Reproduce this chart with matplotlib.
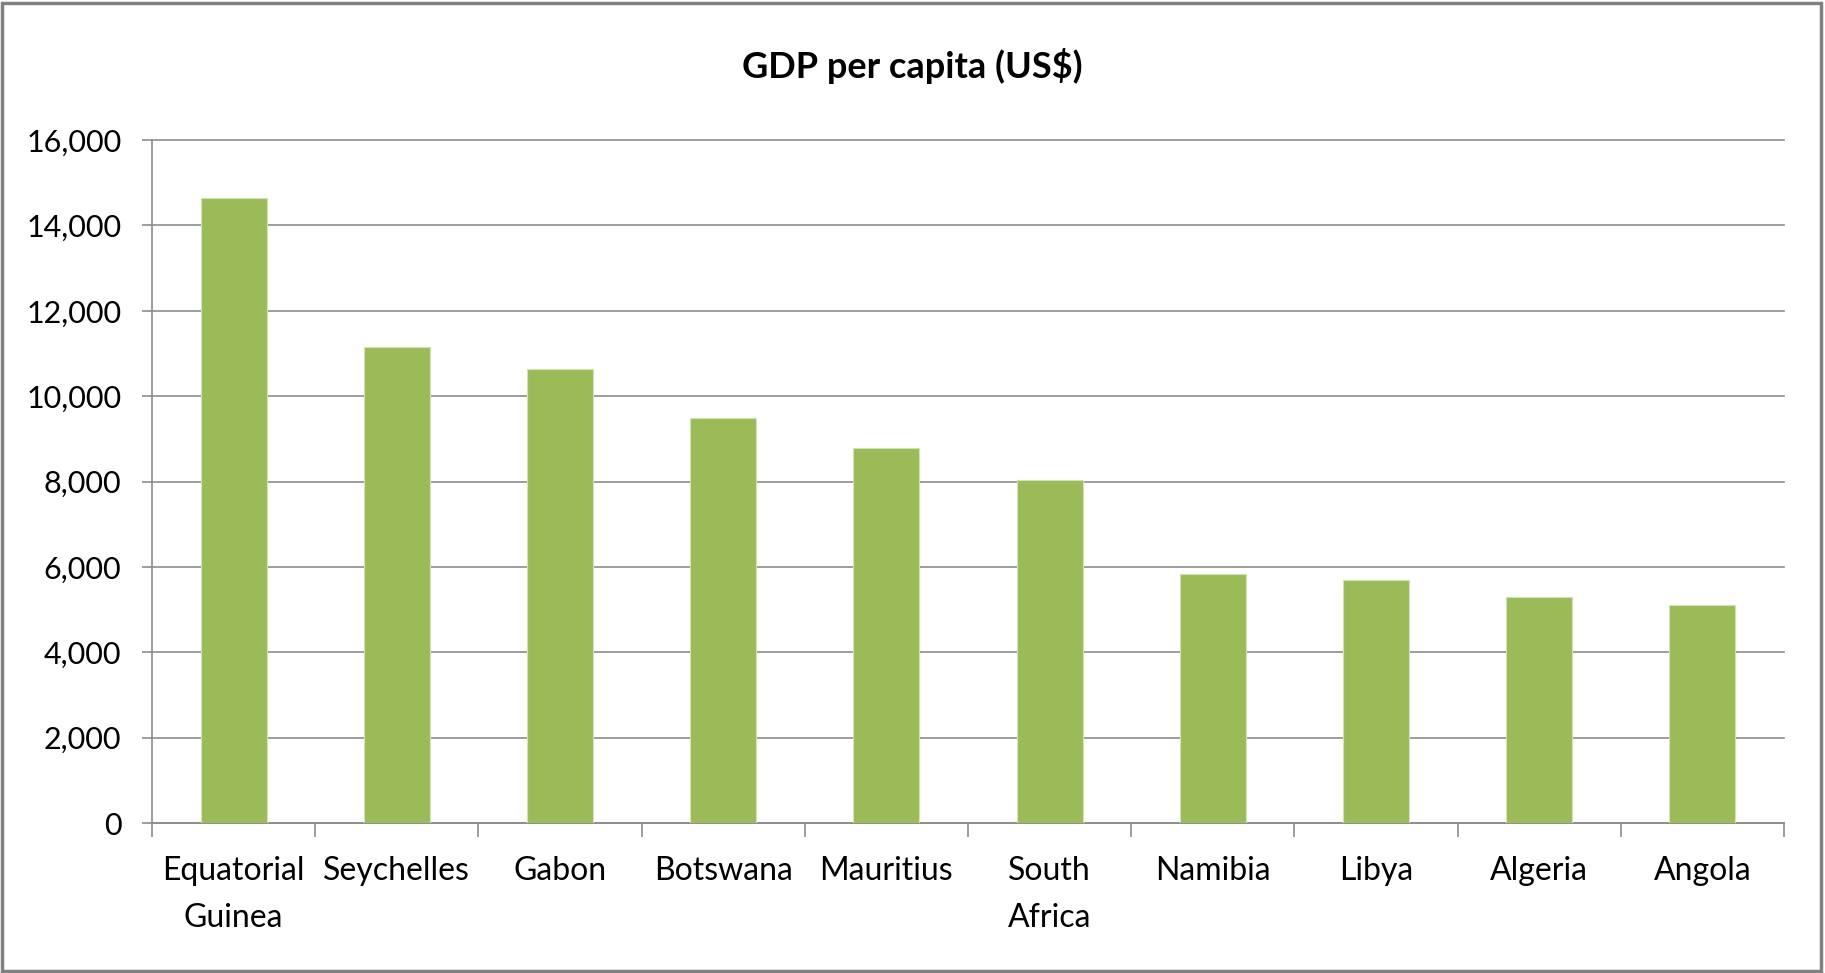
import matplotlib
matplotlib.use("Agg")
import matplotlib.pyplot as plt
from matplotlib.patches import Rectangle
from matplotlib.ticker import FuncFormatter

countries = ["Equatorial\nGuinea", "Seychelles", "Gabon", "Botswana", "Mauritius",
             "South\nAfrica", "Namibia", "Libya", "Algeria", "Angola"]
gdp_per_capita = [14650, 11160, 10630, 9490, 8780, 8030, 5830, 5700, 5300, 5120]
y_ticks = [0, 2000, 4000, 6000, 8000, 10000, 12000, 14000, 16000]

# no Calibri here, Lato is the closest humanist face that is installed
plt.rcParams["font.family"] = ["Lato", "DejaVu Sans"]

GREEN = "#9BBB59"
GRID = "#8C8C8C"

fig = plt.figure(figsize=(18.25, 9.73), dpi=100)
ax = fig.add_axes([0.0833, 0.154, 0.8942, 0.702])

x = list(range(len(countries)))
ax.bar(x, gdp_per_capita, width=0.405, color=GREEN, edgecolor="#D2E2B2",
       linewidth=0.8, zorder=3)

ax.set_xlim(-0.5, len(countries) - 0.5)
ax.set_ylim(0, 16000)
ax.set_yticks(y_ticks)
ax.yaxis.set_major_formatter(FuncFormatter(lambda v, _: f"{int(v):,}"))
ax.grid(axis="y", color=GRID, linewidth=1.2, zorder=0)
for line in ax.get_ygridlines():
    line.set_clip_on(False)

ax.set_xticks(x)
ax.set_xticklabels(countries, linespacing=1.7)
ax.set_xticks([i - 0.5 for i in range(len(countries) + 1)], minor=True)
ax.tick_params(axis="x", which="major", length=0, pad=24, labelsize=23)
ax.tick_params(axis="x", which="minor", length=10, width=1.2, color=GRID)
ax.tick_params(axis="y", length=7, width=1.2, color=GRID, pad=15, labelsize=22)

for side in ("top", "right"):
    ax.spines[side].set_visible(False)
for side in ("left", "bottom"):
    ax.spines[side].set_color(GRID)
    ax.spines[side].set_linewidth(1.2)

fig.text(0.5, 0.932, "GDP per capita (US$)", ha="center", va="center",
         fontsize=26, fontweight="bold")

fig.patches.append(Rectangle((0.001, 0.002), 0.997, 0.995, transform=fig.transFigure,
                             fill=False, edgecolor="#808080", linewidth=2.5))

fig.savefig("out.png", dpi=100)
